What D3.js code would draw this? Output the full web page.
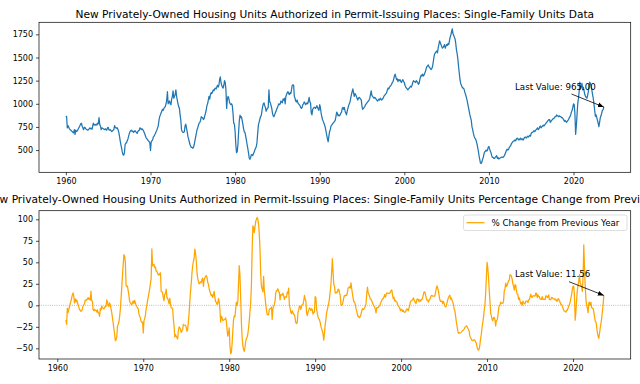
<!DOCTYPE html>
<html><head><meta charset="utf-8">
<script src="https://cdn.jsdelivr.net/npm/d3@7"></script>
<style>
body{margin:0;background:#fff}
svg{display:block}
text{font-family:"DejaVu Sans",sans-serif;fill:#000}
</style>
</head><body><svg id="c" width="640" height="384"></svg>
<script>
// ---- DATA (monthly, seasonally adjusted annual rate, thousands) ----
const startYear = 1960; // January 1960
const permits1960s = [
 868,860,740,765,745,730,720,715,705,700,690,685,
 720,670,715,700,705,720,735,750,765,785,790,760,
 740,720,745,745,730,725,720,715,720,730,740,730,
 735,725,760,790,770,775,770,780,770,790,785,850,
 775,760,722,740,735,730,725,720,730,720,715,740,
 745,720,715,720,710,700,705,715,720,765,745,740,
 735,740,720,690,650,600,560,520,480,450,445,470,
 560,575,580,600,620,650,680,700,710,715,700,705,
 690,700,710,700,690,680,700,710,715,740,735,720,
 730,720,710,690,670,650,630,620,610,600,590,580];
const permits1970s = [
 495,590,600,610,640,650,665,680,700,715,740,760,
 820,860,880,900,920,940,930,950,960,970,1000,1040,
 1130,1000,1020,1030,1000,990,1050,1080,1140,1060,1080,1100,
 1150,1080,1040,1000,970,950,880,820,720,700,690,690,
 700,760,780,740,700,650,620,590,560,540,530,530,
 520,530,560,600,640,680,720,740,770,790,800,820,
 860,850,850,830,840,870,900,930,980,1000,1040,1080,
 1050,1100,1120,1110,1130,1150,1140,1160,1170,1160,1180,1200,
 1180,1200,1260,1290,1230,1200,1180,1170,1200,1250,1230,1150,
 950,1050,1080,1060,1020,1000,990,1000,980,900,790,780];
const permits1980s = [
 700,560,472,480,560,700,820,878,850,860,820,780,
 730,698,690,650,608,560,518,470,415,400,420,450,
 450,440,460,480,500,520,536,580,680,770,800,830,
 860,870,920,970,1000,1010,980,960,920,940,950,960,
 1150,1020,1010,980,950,900,870,860,880,900,920,940,
 960,980,1000,990,1000,1030,1020,1010,1050,1040,1060,1000,
 1080,1100,1120,1130,1110,1100,1120,1110,1150,1200,1205,1200,
 1080,1060,1030,1020,1040,1010,1000,990,980,960,950,960,
 990,1000,1020,1010,990,1000,1010,1000,1030,1070,1020,1010,
 900,880,940,950,960,960,950,960,980,960,940,930];
const permits1990s = [
 990,960,900,860,830,810,790,770,740,700,660,620,
 590,650,700,720,760,770,780,790,800,810,820,860,
 910,900,870,880,870,880,900,910,950,960,940,960,
 920,900,880,920,950,980,1000,1020,1060,1100,1130,1160,
 1120,1080,1110,1100,1080,1060,1040,1060,1070,1060,1050,1040,
 970,940,950,960,970,990,1000,1010,1020,1030,1040,1060,
 1100,1140,1090,1080,1070,1060,1070,1060,1050,1040,1030,1040,
 1050,1040,1060,1050,1040,1050,1060,1080,1090,1100,1110,1120,
 1150,1170,1160,1180,1190,1200,1210,1230,1240,1270,1300,1320,
 1290,1260,1270,1240,1260,1250,1260,1240,1230,1250,1260,1240];
const permits2000s = [
 1230,1200,1180,1170,1160,1150,1160,1170,1180,1190,1180,1200,
 1230,1250,1240,1240,1230,1250,1240,1230,1210,1220,1260,1290,
 1310,1300,1320,1300,1310,1330,1350,1380,1400,1410,1420,1400,
 1390,1380,1370,1380,1400,1450,1500,1540,1550,1560,1570,1550,
 1600,1640,1680,1660,1640,1620,1600,1610,1620,1640,1600,1620,
 1640,1630,1650,1640,1680,1720,1740,1780,1810,1760,1740,1720,
 1700,1650,1580,1540,1480,1400,1330,1260,1220,1200,1180,1170,
 1170,1150,1120,1100,1070,1040,1000,960,920,880,850,820,
 750,720,680,650,630,620,600,570,530,490,440,400,
 360,355,370,400,420,460,480,490,500,490,500,530];
const permits2010s = [
 540,510,490,470,440,420,420,410,410,420,430,440,
 410,420,405,410,415,420,420,425,420,430,440,460,
 480,500,510,500,510,530,540,550,570,580,590,600,
 600,610,600,620,630,620,610,620,610,630,620,610,
 620,610,630,640,640,630,640,650,640,650,660,650,
 680,690,690,700,710,700,710,720,730,740,720,730,
 750,760,740,750,760,770,760,770,780,790,800,810,
 820,830,830,800,810,820,830,840,840,850,860,860,
 880,870,870,860,870,860,860,850,850,840,830,810,
 820,810,800,810,820,830,850,860,880,910,930,960];
const permits2020s = [
 1000,990,890,670,760,880,1000,1060,1130,1235,1170,1190,
 1220,1150,1180,1140,1100,1080,1070,1060,1090,1130,1200,1235,
 1220,1190,1150,1100,1060,1000,930,865,880,850,820,790,
 752,800,850,870,900,930,935,965];

const xTickYears = [1960,1970,1980,1990,2000,2010,2020];
const yTicksTop = [500,750,1000,1250,1500,1750];
const yTicksBottom = [-50,-25,0,25,50,75,100];
const titleTop = "New Privately-Owned Housing Units Authorized in Permit-Issuing Places: Single-Family Units Data";
const titleBottom = "New Privately-Owned Housing Units Authorized in Permit-Issuing Places: Single-Family Units Percentage Change from Previous Year";
const legendLabel = "% Change from Previous Year";

// ---- derived series ----
const permits = [].concat(permits1960s, permits1970s, permits1980s, permits1990s, permits2000s, permits2010s, permits2020s);
const levelSeries = permits.map((v, i) => ({t: startYear + i / 12, v}));
const pctSeries = levelSeries.slice(12).map((d, i) => ({t: d.t, v: (d.v / permits[i] - 1) * 100}));

// ---- layout ----
const svg = d3.select("#c");
const L = 39, R = 630.7;
const top1 = {t: 22.3, b: 172.3};
const top2 = {t: 210.7, b: 359};

const xTop = d3.scaleLinear().domain([1956.82, 2026.76]).range([L, R]);
const yTop = d3.scaleLinear().domain([260, 1880]).range([top1.b, top1.t]);
const xBot = d3.scaleLinear().domain([1957.87, 2026.71]).range([L, R]);
const yBot = d3.scaleLinear().domain([-62.4, 110]).range([top2.b, top2.t]);

const fmt = d3.format("d");
const FS = 8;      // tick labels
const FS2 = 8.7;   // legend / annotations
const FT = 10.65;  // titles

function axes(x, y, yt, box) {
  const gx = svg.append("g").attr("transform", `translate(0,${box.b})`)
    .call(d3.axisBottom(x).tickValues(xTickYears).tickFormat(fmt).tickSize(3).tickPadding(3));
  const gy = svg.append("g").attr("transform", `translate(${L},0)`)
    .call(d3.axisLeft(y).tickValues(yt).tickFormat(fmt).tickSize(3).tickPadding(3));
  [gx, gy].forEach(g => {
    g.select(".domain").remove();
    g.selectAll("line").attr("stroke", "#000").attr("stroke-width", 0.7);
    g.selectAll("text").attr("font-size", FS).attr("font-family", "DejaVu Sans").attr("fill", "#000");
  });
}

svg.append("clipPath").attr("id", "clip1").append("rect")
  .attr("x", L).attr("y", top1.t).attr("width", R - L).attr("height", top1.b - top1.t);
svg.append("clipPath").attr("id", "clip2").append("rect")
  .attr("x", L).attr("y", top2.t).attr("width", R - L).attr("height", top2.b - top2.t);

// top panel
svg.append("path").datum(levelSeries)
  .attr("clip-path", "url(#clip1)")
  .attr("fill", "none").attr("stroke", "#1f77b4").attr("stroke-width", 1.25)
  .attr("stroke-linejoin", "round")
  .attr("d", d3.line().x(d => xTop(d.t)).y(d => yTop(d.v)));

svg.append("rect").attr("x", L).attr("y", top1.t).attr("width", R - L).attr("height", top1.b - top1.t)
  .attr("fill", "none").attr("stroke", "#000").attr("stroke-width", 0.7);
axes(xTop, yTop, yTicksTop, top1);

svg.append("text").attr("x", (L + R) / 2).attr("y", 18).attr("text-anchor", "middle")
  .attr("font-size", FT).text(titleTop);

// bottom panel
svg.append("line").attr("x1", L).attr("x2", R).attr("y1", yBot(0)).attr("y2", yBot(0))
  .attr("stroke", "#999").attr("stroke-width", 0.8).attr("stroke-dasharray", "0.8,1.4");

svg.append("path").datum(pctSeries)
  .attr("clip-path", "url(#clip2)")
  .attr("fill", "none").attr("stroke", "#ffa500").attr("stroke-width", 1.25)
  .attr("stroke-linejoin", "round")
  .attr("d", d3.line().x(d => xBot(d.t)).y(d => yBot(d.v)));

svg.append("rect").attr("x", L).attr("y", top2.t).attr("width", R - L).attr("height", top2.b - top2.t)
  .attr("fill", "none").attr("stroke", "#000").attr("stroke-width", 0.7);
axes(xBot, yBot, yTicksBottom, top2);

svg.append("text").attr("x", (L + R) / 2).attr("y", 203.3).attr("text-anchor", "middle")
  .attr("font-size", FT).text(titleBottom);

// legend
const lg = svg.append("g");
lg.append("rect").attr("x", 463.5).attr("y", 215).attr("width", 163.5).attr("height", 15.5).attr("rx", 2)
  .attr("fill", "#fff").attr("fill-opacity", 0.8).attr("stroke", "#d6d6d6").attr("stroke-width", 0.8);
lg.append("line").attr("x1", 466.5).attr("x2", 484.5).attr("y1", 222.7).attr("y2", 222.7)
  .attr("stroke", "#ffa500").attr("stroke-width", 1.25);
lg.append("text").attr("x", 491.5).attr("y", 225.8).attr("font-size", FS2).text(legendLabel);

// annotations
svg.append("defs").append("marker").attr("id", "ah").attr("viewBox", "0 0 10 10")
  .attr("refX", 10).attr("refY", 5).attr("markerWidth", 6).attr("markerHeight", 6)
  .attr("markerUnits", "userSpaceOnUse").attr("orient", "auto")
  .append("path").attr("d", "M0,1 L10,5 L0,9 Z").attr("fill", "#000");

const lastL = levelSeries[levelSeries.length - 1];
const lastP = pctSeries[pctSeries.length - 1];

svg.append("text").attr("x", 515).attr("y", 89.5).attr("font-size", FS2).text("Last Value: " + lastL.v.toFixed(2));
svg.append("line").attr("x1", 571.5).attr("y1", 94).attr("x2", xTop(lastL.t)).attr("y2", yTop(lastL.v))
  .attr("stroke", "#000").attr("stroke-width", 0.8).attr("marker-end", "url(#ah)");

svg.append("text").attr("x", 515).attr("y", 277).attr("font-size", FS2).text("Last Value: " + lastP.v.toFixed(2));
svg.append("line").attr("x1", 569).attr("y1", 281.7).attr("x2", xBot(lastP.t)).attr("y2", yBot(lastP.v))
  .attr("stroke", "#000").attr("stroke-width", 0.8).attr("marker-end", "url(#ah)");
</script>
</body></html>
